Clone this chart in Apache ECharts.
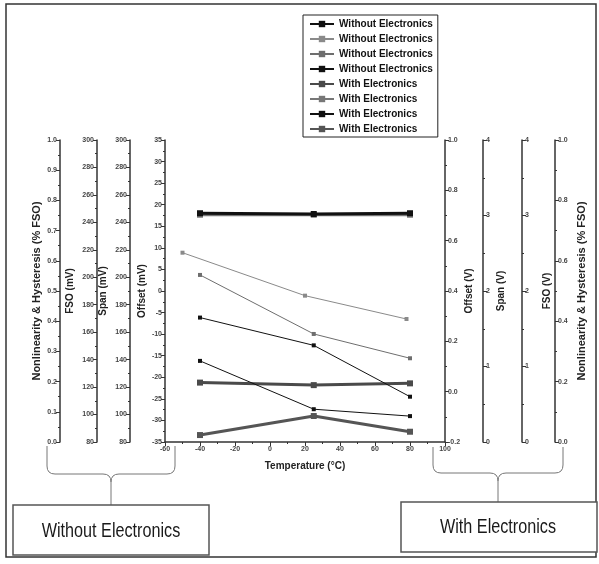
<!DOCTYPE html>
<html>
<head>
<meta charset="utf-8">
<script src="https://cdn.jsdelivr.net/npm/echarts@6/dist/echarts.min.js"></script>
<style>
html,body{margin:0;padding:0;background:#fff;}
#chart{width:599px;height:564px;}
</style>
</head>
<body>
<div id="chart"></div>
<script>
// ---- data ----
const tempsMain = [-40, 25, 80];          // °C
const tempsSpanMv = [-50, 20, 78];        // °C (span mV series)
const offsetMv = [-16.2, -27.4, -29.0];   // Offset (mV), without electronics
const spanMv = [217.9, 186.6, 169.6];     // Span (mV), without electronics
const fsoMv = [201.7, 158.7, 141.0];      // FSO (mV), without electronics
const nlWithout = [0.412, 0.320, 0.150];  // Nonlinearity & Hysteresis (% FSO), without
const offsetV = [0.036, 0.026, 0.033];    // Offset (V), with electronics
const spanV = [3.01, 3.01, 3.01];         // Span (V), with electronics
const fsoV = [3.03, 3.02, 3.03];          // FSO (V), with electronics
const nlWith = [0.023, 0.086, 0.034];     // Nonlinearity & Hysteresis (% FSO), with

const xTicks = {min: -60, max: 100, interval: 20};
const legendNames = ['Without Electronics', 'Without Electronics', 'Without Electronics', 'Without Electronics',
                     'With Electronics', 'With Electronics', 'With Electronics', 'With Electronics'];
const boxLabels = ['Without Electronics', 'With Electronics'];
const xName = 'Temperature (°C)';
const nlName = 'Nonlinearity & Hysteresis (% FSO)';

function zip(xs, ys){ return xs.map((x,i)=>[x, ys[i]]); }

const FONT = '"Liberation Sans", Arial, sans-serif';
const AX = '#333';

function yAx(o){
  return {
    type: 'value',
    position: o.pos,
    offset: o.offset,
    min: o.min, max: o.max, interval: o.interval,
    name: o.name,
    nameLocation: 'middle',
    nameRotate: 90,
    nameGap: o.gap,
    nameTextStyle: {fontFamily: FONT, fontWeight: 'bold', fontSize: o.nameSize || 10, color: '#222'},
    axisLine: {show: true, onZero: false, lineStyle: {color: AX, width: 1.5}},
    axisTick: {show: true, inside: false, length: 4, lineStyle: {color: AX, width: 1}},
    minorTick: {show: true, splitNumber: 2, length: 2, lineStyle: {color: AX, width: 1}},
    axisLabel: {fontFamily: FONT, fontWeight: 'bold', fontSize: 7, color: '#444', margin: 3,
                formatter: o.fmt},
    splitLine: {show: false}
  };
}
const f1 = v => v.toFixed(1);
const f0 = v => String(Math.round(v));

const names = legendNames.map((n,i)=> n + ' #' + i);

function thin(i, color, xs, ys, yi){
  return {name: names[i], type: 'line', yAxisIndex: yi, data: zip(xs, ys),
          symbol: 'rect', symbolSize: 4, showSymbol: true,
          lineStyle: {color: color, width: 1}, itemStyle: {color: color}, z: 3, animation: false};
}
function thick(i, color, xs, ys, yi, z){
  return {name: names[i], type: 'line', yAxisIndex: yi, data: zip(xs, ys),
          symbol: 'rect', symbolSize: 6, showSymbol: true,
          lineStyle: {color: color, width: 3}, itemStyle: {color: color}, z: z || 2, animation: false};
}

// curly brace made of straight lines and quadratic curves
function brace(xl, xm, xr, yTop, yBar, yTip, r){
  const st = {stroke: '#777', lineWidth: 1, fill: 'none'};
  const L = (x1,y1,x2,y2) => ({type: 'line', silent: true, shape: {x1,y1,x2,y2}, style: st});
  const Q = (x1,y1,cx,cy,x2,y2) => ({type: 'bezierCurve', silent: true,
            shape: {x1,y1,x2,y2,cpx1:cx,cpy1:cy}, style: st});
  return [
    L(xl, yTop, xl, yBar - r),
    Q(xl, yBar - r, xl, yBar, xl + r, yBar),
    L(xl + r, yBar, xm - r, yBar),
    Q(xm - r, yBar, xm, yBar, xm, yBar + r),
    L(xm, yBar + r, xm, yTip),
    Q(xm + r, yBar, xm, yBar, xm, yBar + r),
    L(xm + r, yBar, xr - r, yBar),
    Q(xr - r, yBar, xr, yBar, xr, yBar - r),
    L(xr, yBar - r, xr, yTop)
  ];
}

const option = {
  backgroundColor: '#fff',
  animation: false,
  grid: {left: 165, right: 154, top: 140, bottom: 122, containLabel: false},
  legend: {
    orient: 'vertical', left: 303, top: 15,
    backgroundColor: '#fff', borderColor: '#222', borderWidth: 1,
    padding: [4, 5, 3, 6], itemGap: 5, itemWidth: 24, itemHeight: 8,
    textStyle: {fontFamily: FONT, fontWeight: 'bold', fontSize: 10, color: '#111'},
    formatter: n => n.split(' #')[0],
    data: names
  },
  xAxis: {
    type: 'value', min: xTicks.min, max: xTicks.max, interval: xTicks.interval,
    name: xName, nameLocation: 'middle', nameGap: 19,
    nameTextStyle: {fontFamily: FONT, fontWeight: 'bold', fontSize: 10, color: '#222'},
    axisLine: {show: true, onZero: false, lineStyle: {color: AX, width: 1.5}},
    axisTick: {show: true, length: 4, lineStyle: {color: AX}},
    minorTick: {show: true, splitNumber: 2, length: 2, lineStyle: {color: AX}},
    axisLabel: {fontFamily: FONT, fontWeight: 'bold', fontSize: 7, color: '#444', margin: 4},
    splitLine: {show: false}
  },
  yAxis: [
    yAx({pos: 'left', offset: 0, min: -35, max: 35, interval: 5, name: 'Offset (mV)', gap: 18, fmt: f0}),
    yAx({pos: 'left', offset: 35, min: 80, max: 300, interval: 20, name: 'Span (mV)', gap: 22, fmt: f0}),
    yAx({pos: 'left', offset: 68, min: 80, max: 300, interval: 20, name: 'FSO (mV)', gap: 22, fmt: f0}),
    yAx({pos: 'left', offset: 105, min: 0, max: 1, interval: 0.1, name: nlName, gap: 18, fmt: f1, nameSize: 11}),
    yAx({pos: 'right', offset: 0, min: -0.2, max: 1.0, interval: 0.2, name: 'Offset (V)', gap: 19, fmt: f1}),
    yAx({pos: 'right', offset: 38, min: 0, max: 4, interval: 1, name: 'Span (V)', gap: 13, fmt: f0}),
    yAx({pos: 'right', offset: 77, min: 0, max: 4, interval: 1, name: 'FSO (V)', gap: 20, fmt: f0}),
    yAx({pos: 'right', offset: 110, min: 0, max: 1, interval: 0.2, name: nlName, gap: 21, fmt: f1, nameSize: 11})
  ],
  series: [
    thin(0, '#111', tempsMain, offsetMv, 0),
    thin(1, '#8a8a8a', tempsSpanMv, spanMv, 1),
    thin(2, '#6e6e6e', tempsMain, fsoMv, 2),
    thin(3, '#111', tempsMain, nlWithout, 3),
    thick(4, '#4a4a4a', tempsMain, offsetV, 4),
    thick(5, '#777', tempsMain, spanV, 5, 2),
    thick(6, '#111', tempsMain, fsoV, 6, 4),
    thick(7, '#555', tempsMain, nlWith, 7)
  ],
  graphic: [
    {type: 'rect', z: -10, silent: true, shape: {x: 6, y: 4, width: 590, height: 553},
     style: {fill: 'none', stroke: '#333', lineWidth: 1.5}},
    ...brace(47, 111, 175, 446, 474, 505, 8),
    ...brace(433, 498, 563, 447, 473, 502, 8),
    {type: 'rect', silent: true, shape: {x: 13, y: 505, width: 196, height: 50},
     style: {fill: '#fff', stroke: '#555', lineWidth: 1.5}},
    {type: 'rect', silent: true, shape: {x: 401, y: 502, width: 196, height: 50},
     style: {fill: '#fff', stroke: '#555', lineWidth: 1.5}},
    {type: 'text', silent: true, x: 111, y: 531, scaleX: 0.81,
     style: {text: boxLabels[0], fontFamily: FONT, fontSize: 20, fill: '#1a1a1a', align: 'center', verticalAlign: 'middle'}},
    {type: 'text', silent: true, x: 498, y: 527, scaleX: 0.81,
     style: {text: boxLabels[1], fontFamily: FONT, fontSize: 20, fill: '#1a1a1a', align: 'center', verticalAlign: 'middle'}}
  ]
};

const chart = echarts.init(document.getElementById('chart'), null, {renderer: 'canvas'});
chart.setOption(option);
</script>
</body>
</html>
